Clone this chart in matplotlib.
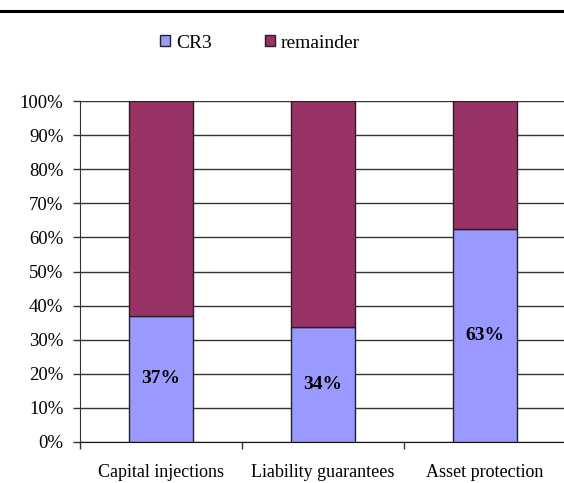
import matplotlib
matplotlib.use("Agg")
import matplotlib.pyplot as plt
from matplotlib.lines import Line2D
import numpy as np

categories = ["Capital injections", "Liability guarantees", "Asset protection"]
cr3 = [0.37, 0.338, 0.625]
cr3_labels = ["37%", "34%", "63%"]
remainder = [1 - v for v in cr3]
series_names = ["CR3", "remainder"]
yticks = [0, 0.1, 0.2, 0.3, 0.4, 0.5, 0.6, 0.7, 0.8, 0.9, 1.0]

plt.rcParams['font.family'] = ['Liberation Serif', 'DejaVu Serif']

fig = plt.figure(figsize=(5.64, 4.83), dpi=100)
ax = fig.add_axes([80/564, 1 - 442/483, 486/564, 341/483])

x = np.arange(len(categories))
w = 0.4
c1 = "#9999FF"
c2 = "#993366"
ax.bar(x, cr3, w, color=c1, edgecolor="#222222", linewidth=1.0, label=series_names[0], zorder=3)
ax.bar(x, remainder, w, bottom=cr3, color=c2, edgecolor="#222222", linewidth=1.0, label=series_names[1], zorder=3)

for xi, v, lab in zip(x, cr3, cr3_labels):
    ax.text(xi, v / 2, lab, ha="center", va="center", fontsize=14, fontweight="bold", zorder=4)

ax.set_xlim(-0.5, 2.5)
ax.set_ylim(0, 1.0)
ax.set_yticks(yticks)
ax.set_yticklabels([f"{int(round(t*100))}%" for t in yticks], fontsize=13.5)
ax.yaxis.grid(True, color="#333333", linewidth=1.0, zorder=0)
ax.set_axisbelow(True)

ax.set_xticks([-0.5, 0.5, 1.5])
ax.set_xticklabels([])
ax.set_xticks(x, minor=True)
ax.set_xticklabels(categories, minor=True, fontsize=13)
ax.tick_params(axis="x", which="major", direction="out", length=5, width=1, color="#333333")
ax.tick_params(axis="x", which="minor", length=0, pad=16)
ax.tick_params(axis="y", direction="out", length=5, width=1, color="#333333", pad=7)

for s in ["top", "right"]:
    ax.spines[s].set_visible(False)
ax.spines["left"].set_color("#333333")
ax.spines["bottom"].set_color("#111111")

leg = fig.legend(loc="center", bbox_to_anchor=(260/564, 1 - 43/483), ncol=2, frameon=False,
                 fontsize=14, handlelength=0.55, handleheight=0.55, handletextpad=0.3,
                 columnspacing=2.7)
for p in leg.get_patches():
    p.set_edgecolor("#222222")
    p.set_linewidth(1.0)

fig.add_artist(Line2D([0, 1], [1 - 11/483, 1 - 11/483], color="black", linewidth=2.2, transform=fig.transFigure))

fig.savefig("out.png", dpi=100)
